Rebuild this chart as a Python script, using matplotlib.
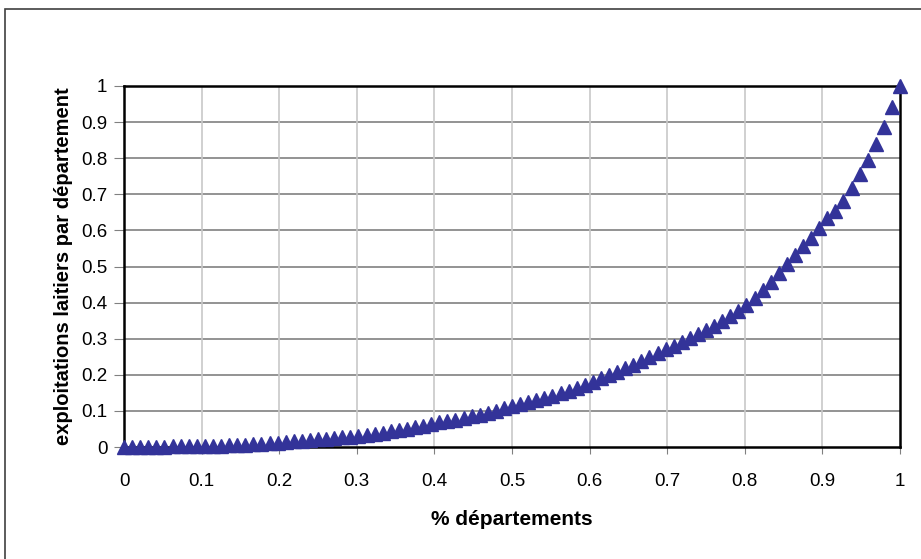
import numpy as np
import matplotlib.pyplot as plt
from matplotlib.patches import Rectangle

# part cumulée des exploitations laitières (courbe de Lorenz, 96 départements)
nb_departements = 96
part_exploitations = [
    0.0, 0.0002, 0.0004, 0.0006, 0.0009, 0.0012, 0.0015, 0.0018, 0.0022, 0.0026,
    0.003, 0.0035, 0.004, 0.0046, 0.0053, 0.006, 0.0075, 0.009, 0.0105, 0.012,
    0.014, 0.016, 0.018, 0.02, 0.022, 0.0235, 0.025, 0.027, 0.029, 0.031,
    0.034, 0.037, 0.04, 0.043, 0.047, 0.051, 0.055, 0.059, 0.063, 0.068,
    0.072, 0.076, 0.081, 0.085, 0.09, 0.095, 0.101, 0.107, 0.113, 0.118,
    0.124, 0.13, 0.136, 0.142, 0.149, 0.156, 0.163, 0.172, 0.181, 0.19,
    0.199, 0.208, 0.218, 0.228, 0.238, 0.249, 0.26, 0.271, 0.28, 0.29,
    0.301, 0.312, 0.323, 0.335, 0.348, 0.362, 0.378, 0.394, 0.412, 0.435,
    0.458, 0.481, 0.506, 0.532, 0.557, 0.578, 0.607, 0.634, 0.655, 0.682,
    0.717, 0.755, 0.795, 0.839, 0.887, 0.943, 1.0,
]
part_departements = [i / nb_departements for i in range(nb_departements + 1)]

ticks = [0, 0.1, 0.2, 0.3, 0.4, 0.5, 0.6, 0.7, 0.8, 0.9, 1]
tick_labels = ["0", "0.1", "0.2", "0.3", "0.4", "0.5", "0.6", "0.7", "0.8", "0.9", "1"]

plt.rcParams["font.family"] = ["Liberation Sans", "DejaVu Sans"]

fig = plt.figure(figsize=(9.21, 5.59), dpi=100)
ax = fig.add_axes([124 / 921, 1 - 447 / 559, 776 / 921, 361 / 559])

# cadre extérieur
fig.patches.append(Rectangle((5 / 921, -0.02), 1.05, 1 - 9 / 559 + 0.02,
                             transform=fig.transFigure, fill=False,
                             edgecolor="#404040", linewidth=1.2))

ax.plot(part_departements, part_exploitations, linestyle="none", marker="^",
        markersize=9.5, color="#333399", clip_on=False, zorder=5)

ax.set_xlim(0, 1)
ax.set_ylim(0, 1)
ax.set_xticks(ticks)
ax.set_xticklabels(tick_labels)
ax.set_yticks(ticks)
ax.set_yticklabels(tick_labels)

for y in ticks[1:-1]:
    ax.axhline(y, color="#808080", linewidth=1.2, zorder=1)
for x in ticks[1:-1]:
    ax.axvline(x, color="#c8c8c8", linewidth=1.2, zorder=1)

for s in ax.spines.values():
    s.set_color("black")
    s.set_linewidth(1.8)

ax.tick_params(axis="both", direction="out", color="#808080", labelsize=13.5)
ax.tick_params(axis="y", length=7, pad=5)
ax.tick_params(axis="x", length=5, pad=14)

ax.set_xlabel("% départements", fontsize=15, fontweight="bold", labelpad=14)
ax.set_ylabel("exploitations laitiers par département", fontsize=14.5,
              fontweight="bold", labelpad=6)

fig.savefig("out.png", dpi=100)
